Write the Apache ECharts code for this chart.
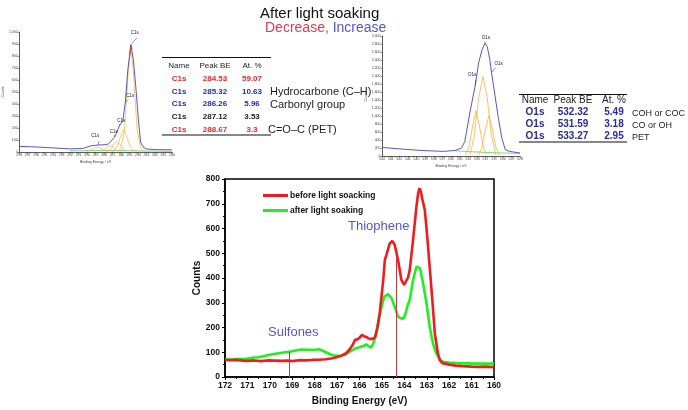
<!DOCTYPE html>
<html><head><meta charset="utf-8">
<script src="https://cdn.jsdelivr.net/npm/echarts@6/dist/echarts.min.js"></script>
<style>html,body{margin:0;padding:0;background:#fff}#c{width:688px;height:410px}</style>
</head><body><div id="c"></div>
<script>
// ---------- Main S2p spectrum ----------
const beforeSoaking = [[172,70],[171.8,68],[171.5,69],[171.2,66],[171,65],[170.7,67],[170.4,64],[170.1,67],[169.8,66],[169.5,65],[169.2,66],[169,64],[168.7,68],[168.4,67],[168.1,69],[167.8,70],[167.5,72],[167.2,76],[167,81],[166.8,86],[166.6,96],[166.45,110],[166.3,130],[166.2,150],[166.1,152],[166.0,158],[165.9,170],[165.8,165],[165.7,162],[165.6,156],[165.5,153],[165.4,155],[165.3,162],[165.2,200],[165.1,257],[164.94,392],[164.87,473],[164.8,493],[164.65,540],[164.54,550],[164.43,534],[164.28,473],[164.13,392],[164.01,372],[163.83,403],[163.76,432],[163.61,554],[163.46,689],[163.38,745],[163.32,763],[163.25,745],[163.2,720],[163.09,676],[163.0,590],[162.87,446],[162.75,310],[162.64,176],[162.5,95],[162.42,68],[162.3,56],[162,50],[161.7,46],[161.4,44],[161,42],[160.7,41],[160.4,42],[160,40]];
const afterSoaking = [[172,72],[171.7,71],[171.4,74],[171.1,73],[170.8,78],[170.5,80],[170.2,86],[169.9,92],[169.6,96],[169.3,100],[169,104],[168.8,108],[168.6,111],[168.3,110],[168,110],[167.8,112],[167.6,104],[167.4,96],[167.2,88],[167,86],[166.8,87],[166.6,92],[166.4,104],[166.2,115],[166,120],[165.8,126],[165.7,132],[165.6,125],[165.5,118],[165.4,132],[165.3,160],[165.2,200],[165.1,250],[165.0,290],[164.9,324],[164.72,335],[164.57,318],[164.43,284],[164.28,243],[164.15,237],[164.05,236],[163.95,255],[163.85,290],[163.76,311],[163.61,392],[163.46,446],[163.39,453],[163.3,440],[163.16,378],[163.01,297],[162.87,203],[162.72,135],[162.57,95],[162.4,70],[162.27,61],[162,58],[161.6,56],[161.2,55],[160.8,54],[160.4,54],[160,54]];
const refLines = [[169.15,102],[164.35,480]];
const seriesNames = ['before light soacking','after light soaking'];

// ---------- C1s inset ----------
const c1sEnvelope = [[298,47],[296,42],[294,34],[292,26],[290.5,30],[289.5,52],[288.7,58],[288,60],[287.5,66],[286.8,120],[286.6,149],[286.2,217],[285.8,260],[285.5,413],[285.2,686],[284.85,893],[284.55,768],[284.27,548],[283.96,273],[283.7,83],[283.4,41],[283,25],[282,20],[280,18]];
const c1sComp1 = [[286.4,5],[286,30],[285.6,180],[285.3,500],[285.1,720],[284.85,840],[284.6,720],[284.4,500],[284.1,180],[283.7,30],[283.3,5]];
const c1sComp2 = [[286.9,5],[286.5,40],[286.1,120],[285.7,190],[285.3,120],[284.9,40],[284.5,5]];
const c1sComp3 = [[287.6,5],[287.2,30],[286.8,70],[286.5,90],[286.2,70],[285.8,30],[285.4,5]];
const c1sComp4 = [[288.3,3],[287.9,20],[287.6,45],[287.3,55],[287,45],[286.7,20],[286.3,3]];
const c1sComp5 = [[290,3],[289.5,20],[289.1,35],[288.8,40],[288.5,35],[288.1,20],[287.6,3]];
const c1sBaseline = [[292,10],[288,12],[286,12],[283,8],[280,6]];
const c1sRawTop = [[285.0,800],[284.85,890],[284.7,860]];
const c1sPeakLabels = [[284.85,893,'C1s'],[285.5,413,'C1s'],[286.2,217,'C1s'],[286.75,125,'C1s'],[288.7,58,'C1s']];

// ---------- O1s inset ----------
const o1sEnvelope = [[544,214],[541.5,170],[539.6,140],[536.9,115],[535.5,140],[534.8,197],[534.4,361],[534.2,607],[533.8,1099],[533.2,1753],[532.8,2328],[532.4,2656],[532.06,2820],[531.8,2738],[531.5,2410],[531.3,2083],[530.9,1507],[530.5,934],[530.1,443],[529.7,155],[529.2,115],[528,74]];
const o1sCompL = [[534.3,20],[533.9,250],[533.5,750],[533.1,1130],[532.7,750],[532.3,250],[531.9,20]];
const o1sCompM = [[533.8,30],[533.3,500],[532.8,1450],[532.3,1990],[531.8,1450],[531.3,500],[530.8,30]];
const o1sCompR = [[532.8,20],[532.4,220],[532,680],[531.6,1010],[531.2,680],[530.8,220],[530.4,20]];
const o1sBaseline = [[535.5,130],[534,110],[532,90],[530,75],[528,65]];
const o1sPeakLabels = [[532.06,2820,'O1s'],[533.2,1753,'O1s'],[531.3,2083,'O1s']];

// ---------- Tables / texts ----------
const titleText = 'After light soaking';
const trendWords = ['Decrease,', 'Increase'];
const tableHeader = ['Name','Peak BE','At. %'];
const c1sRows = [['C1s','284.53','59.07'],['C1s','285.32','10.63'],['C1s','286.26','5.96'],['C1s','287.12','3.53'],['C1s','288.67','3.3']];
const c1sTrend = ['dec','inc','inc','none','dec'];
const c1sNotes = ['','Hydrocarbone (C\u2013H)','Carbonyl group','','C=O\u2013C (PET)'];
const o1sRows = [['O1s','532.32','5.49'],['O1s','531.59','3.18'],['O1s','533.27','2.95']];
const o1sNotes = ['COH or COC','CO or OH','PET'];
const peakNames = ['Thiophene','Sulfones'];

// ---------- styles ----------
const RED='#ee1c1c', GREEN='#22ee22', TRED='#e62a2a', TBLUE='#2a2aa8', LBLUE='#5656c8';
const C1S_LABEL_OFF = [[4,-12,6,-7],[5,-7,3,-3],[2,-5,0,-2],[-1,-5,0,-2],[-3,-9,1,-4]];
const O1S_LABEL_OFF = [[1,-5,0,-2],[-3,-11,1,-6],[7,-9,4,-5]];
const TREND_COL = {dec:TRED, inc:TBLUE, none:'#222'};
const SANS = 'Liberation Sans, Arial, sans-serif';

function lbls(xi, pts, offs){
  return {type:'custom', xAxisIndex:xi, yAxisIndex:xi, silent:true, z:5,
    data: pts.map(p=>[p[0],p[1]]),
    renderItem:(params,api)=>{
      const i=params.dataIndex, c=api.coord([api.value(0),api.value(1)]), o=offs[i];
      return {type:'group', children:[
        {type:'line', shape:{x1:c[0],y1:c[1],x2:c[0]+o[2],y2:c[1]+o[3]}, style:{stroke:'#333',lineWidth:0.5}},
        {type:'text', style:{text:pts[i][2], x:c[0]+o[0], y:c[1]+o[1], fontSize:4.5, fill:'#222', align:'center', verticalAlign:'middle', fontFamily:SANS}}
      ]};
    }};
}
function ln(xi, data, color, w, z){
  return {type:'line', xAxisIndex:xi, yAxisIndex:xi, data, showSymbol:false, symbol:'none', silent:true, z:z||2,
    lineStyle:{color, width:w||0.8}, itemStyle:{color}};
}
function smallX(gi, min, max){
  return {gridIndex:gi, type:'value', min, max, interval:1, inverse:true,
    axisLine:{lineStyle:{color:'#333',width:0.8}}, axisTick:{length:1.5,lineStyle:{width:0.5}},
    axisLabel:{fontSize:3.5,color:'#444',margin:1.5,fontFamily:SANS}, splitLine:{show:false},
    name:'Binding Energy / eV', nameLocation:'middle', nameGap:8, nameTextStyle:{fontSize:3.5,color:'#444'}};
}
function smallY(gi, max, interval){
  return {gridIndex:gi, type:'value', min:0, max, interval,
    axisLine:{show:true,lineStyle:{color:'#333',width:0.8}}, axisTick:{show:true,length:1.5,lineStyle:{width:0.5}},
    axisLabel:{fontSize:3.5,color:'#444',margin:1.5,fontFamily:SANS}, splitLine:{show:false},
    name:'Counts', nameLocation:'middle', nameGap:9, nameRotate:90, nameTextStyle:{fontSize:3.5,color:'#444'}};
}

// graphic: title, tables, annotations
const g = [];
g.push({type:'text', left:260, top:6, style:{text:titleText, font:'15px '+SANS, fill:'#111'}});
g.push({type:'text', left:265, top:21, style:{text:'{r|'+trendWords[0]+'} {b|'+trendWords[1]+'}', font:'14px '+SANS,
  rich:{r:{fill:'#e8384f', fontSize:14, fontFamily:SANS}, b:{fill:LBLUE, fontSize:14, fontFamily:SANS}}}});
// C1s table
const c1sCols=[179,215,252];
g.push({type:'line', shape:{x1:162,y1:57.5,x2:271,y2:57.5}, style:{stroke:'#111',lineWidth:1.2}});
g.push({type:'line', shape:{x1:162,y1:135,x2:271,y2:135}, style:{stroke:'#111',lineWidth:1.2}});
tableHeader.forEach((h,j)=>g.push({type:'text', x:c1sCols[j], y:66, style:{text:h, font:'8px '+SANS, fill:'#222', align:'center', verticalAlign:'middle'}}));
c1sRows.forEach((r,i)=>{
  const y=79+i*12.6, col=TREND_COL[c1sTrend[i]];
  r.forEach((v,j)=>g.push({type:'text', x:c1sCols[j], y, style:{text:v, font:'bold 8px '+SANS, fill:col, align:'center', verticalAlign:'middle'}}));
  if(c1sNotes[i]) g.push({type:'text', x:i===4?268:270, y:y+0.5, style:{text:c1sNotes[i], font:'11px '+SANS, fill:'#222', align:'left', verticalAlign:'middle'}});
});
// O1s table
const o1sCols=[535,573,614];
g.push({type:'line', shape:{x1:519,y1:94.5,x2:627,y2:94.5}, style:{stroke:'#111',lineWidth:1.2}});
g.push({type:'line', shape:{x1:519,y1:142,x2:627,y2:142}, style:{stroke:'#111',lineWidth:1.2}});
tableHeader.forEach((h,j)=>g.push({type:'text', x:o1sCols[j], y:100.5, style:{text:h, font:'10px '+SANS, fill:'#222', align:'center', verticalAlign:'middle'}}));
o1sRows.forEach((r,i)=>{
  const y=112.7+i*12;
  r.forEach((v,j)=>g.push({type:'text', x:o1sCols[j], y, style:{text:v, font:'bold 10px '+SANS, fill:TBLUE, align:'center', verticalAlign:'middle'}}));
  g.push({type:'text', x:632, y:y+1, style:{text:o1sNotes[i], font:'9px '+SANS, fill:'#222', align:'left', verticalAlign:'middle'}});
});
// main chart annotations
g.push({type:'text', x:348, y:226, style:{text:peakNames[0], font:'13px '+SANS, fill:LBLUE, align:'left', verticalAlign:'middle'}});
g.push({type:'text', x:268, y:332, style:{text:peakNames[1], font:'13px '+SANS, fill:LBLUE, align:'left', verticalAlign:'middle'}});

const chart = echarts.init(document.getElementById('c'), null, {renderer:'canvas'});
chart.setOption({
  animation:false,
  backgroundColor:'#fff',
  grid:[
    {left:16, top:32, width:156, height:120},
    {left:382, top:36, width:138, height:120},
    {left:225, top:179, width:269, height:198, show:true, borderColor:'#000', borderWidth:1.5, backgroundColor:'transparent'}
  ],
  xAxis:[
    smallX(0,280,298),
    smallX(1,528,544),
    {gridIndex:2, type:'value', min:160, max:172, interval:1, inverse:true,
     axisLine:{lineStyle:{color:'#000',width:1.5}}, axisTick:{length:3,lineStyle:{color:'#000',width:1}},
     minorTick:{show:true,splitNumber:2,length:2,lineStyle:{color:'#000'}},
     axisLabel:{fontSize:8.5,fontWeight:'bold',color:'#111',margin:4,fontFamily:SANS}, splitLine:{show:false},
     name:'Binding Energy (eV)', nameLocation:'middle', nameGap:19,
     nameTextStyle:{fontSize:10,fontWeight:'bold',color:'#111',fontFamily:SANS}}
  ],
  yAxis:[
    smallY(0,1000,100),
    smallY(1,3000,200),
    {gridIndex:2, type:'value', min:0, max:800, interval:100,
     axisLine:{show:true,lineStyle:{color:'#000',width:1.5}}, axisTick:{show:true,length:3,lineStyle:{color:'#000',width:1}},
     minorTick:{show:true,splitNumber:2,length:2,lineStyle:{color:'#000'}},
     axisLabel:{fontSize:8.5,fontWeight:'bold',color:'#111',margin:5,fontFamily:SANS}, splitLine:{show:false},
     name:'Counts', nameLocation:'middle', nameGap:23, nameRotate:90,
     nameTextStyle:{fontSize:10,fontWeight:'bold',color:'#111',fontFamily:SANS}}
  ],
  legend:{data:seriesNames, orient:'vertical', left:258, top:186, itemWidth:25, itemHeight:3, itemGap:6, icon:'rect',
    textStyle:{fontSize:8.5,fontWeight:'bold',color:'#111',fontFamily:SANS,padding:[0,0,0,-3]}},
  graphic:g,
  series:[
    ln(0,c1sBaseline,'#5ccc5c',0.8,1),
    ln(0,c1sComp5,'#f2b640',0.7,1), ln(0,c1sComp4,'#f2b640',0.7,1), ln(0,c1sComp3,'#f2b640',0.7,1),
    ln(0,c1sComp2,'#f2b640',0.7,1), ln(0,c1sComp1,'#f2c040',0.8,1),
    ln(0,c1sEnvelope,'#4a3fc8',0.9,3), ln(0,c1sRawTop,'#e03030',0.9,4),
    lbls(0,c1sPeakLabels,C1S_LABEL_OFF),
    ln(1,o1sBaseline,'#5ccc5c',0.8,1),
    ln(1,o1sCompL,'#f2b640',0.8,1), ln(1,o1sCompM,'#f2b640',0.8,1), ln(1,o1sCompR,'#f2b640',0.8,1),
    ln(1,o1sEnvelope,'#4a3fc8',0.9,3),
    lbls(1,o1sPeakLabels,O1S_LABEL_OFF),
    {name:seriesNames[1], type:'line', xAxisIndex:2, yAxisIndex:2, data:afterSoaking, showSymbol:false, symbol:'none',
     lineStyle:{color:GREEN,width:2.6}, itemStyle:{color:GREEN}, z:3},
    {name:seriesNames[0], type:'line', xAxisIndex:2, yAxisIndex:2, data:beforeSoaking, showSymbol:false, symbol:'none',
     lineStyle:{color:RED,width:2.6}, itemStyle:{color:RED}, z:4,
     markLine:{symbol:'none', silent:true, animation:false, label:{show:false}, lineStyle:{color:'#c43a3a',width:1,type:'solid'},
       data: refLines.map(([x,top])=>[{coord:[x,0]},{coord:[x,top]}])}}
  ]
});
</script></body></html>
